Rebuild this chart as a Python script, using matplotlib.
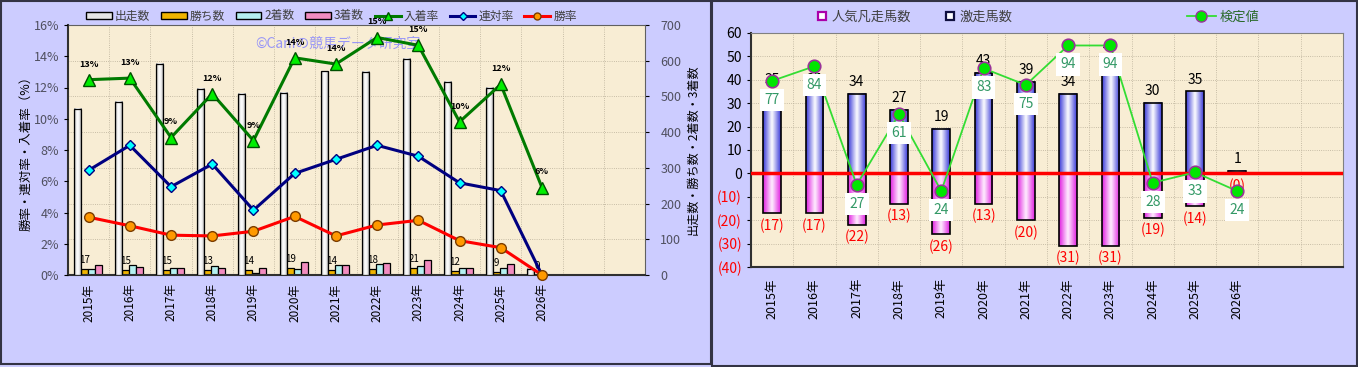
import numpy as np
import matplotlib
matplotlib.use('Agg')
import matplotlib.pyplot as plt
from matplotlib.colors import LinearSegmentedColormap
from matplotlib.patches import Patch, Rectangle
from matplotlib.lines import Line2D

plt.rcParams['font.family'] = ['Noto Sans CJK JP', 'DejaVu Sans']

years = ['2015年', '2016年', '2017年', '2018年', '2019年', '2020年',
         '2021年', '2022年', '2023年', '2024年', '2025年', '2026年']

# left chart
starts = [465, 485, 592, 522, 507, 511, 570, 569, 606, 541, 524, 18]
wins = [17, 15, 15, 13, 14, 19, 14, 18, 21, 12, 9, 0]
seconds = [16, 27, 19, 26, 7, 16, 29, 30, 26, 20, 20, 0]
thirds = [28, 22, 19, 19, 19, 36, 29, 35, 42, 19, 32, 0]
place_rate = [12.5, 12.6, 8.8, 11.6, 8.6, 13.9, 13.5, 15.2, 14.7, 9.8, 12.2, 5.6]
quinella_rate = [6.7, 8.3, 5.65, 7.1, 4.15, 6.5, 7.4, 8.3, 7.6, 5.9, 5.4, 0.0]
win_rate = [3.7, 3.15, 2.55, 2.5, 2.8, 3.75, 2.5, 3.2, 3.5, 2.2, 1.75, 0.0]

# right chart
upset_horses = [35, 35, 34, 27, 19, 43, 39, 34, 49, 30, 35, 1]
flop_horses = [17, 17, 22, 13, 26, 13, 20, 31, 31, 19, 14, 0]
test_value = [77, 84, 27, 61, 24, 83, 75, 94, 94, 28, 33, 24]

W, H = 1358, 367
fig = plt.figure(figsize=(W / 100, H / 100), dpi=100)
fig.patch.set_facecolor('#ccccff')

def fx(px):
    return px / W

def fy(py):
    return 1 - py / H

# panel borders
fig.patches.append(Rectangle((fx(1), fy(364)), fx(710), 363 / H, transform=fig.transFigure,
                             fill=False, edgecolor='#333344', lw=1.5))
fig.patches.append(Rectangle((fx(712), fy(366)), fx(645), 365 / H, transform=fig.transFigure,
                             fill=False, edgecolor='#333344', lw=1.5))

grad = np.linspace(0, 1, 64).reshape(1, -1)

def shade(ax, bars, colors, z):
    cmap = LinearSegmentedColormap.from_list('g', colors)
    for b in bars:
        x0, y0, w, h = b.get_x(), b.get_y(), b.get_width(), b.get_height()
        if h == 0:
            continue
        ax.imshow(grad, extent=(x0, x0 + w, y0, y0 + h), aspect='auto', cmap=cmap,
                  zorder=z, interpolation='bicubic')

n = len(years)
x = np.arange(n)
bg = '#f8edd4'
gridkw = dict(color='#b8ae98', lw=0.6, ls=':')

# ---------------- left chart ----------------
ax = fig.add_axes([fx(68), fy(275), fx(577), 250 / H])
ax.set_facecolor(bg)
bw = 0.17
b0 = ax.bar(x - 0.28, starts, bw, facecolor='none', edgecolor='black', lw=0.9, zorder=3.1)
shade(ax, b0, ['#8c8c8c', '#ffffff', '#f2f2f2', '#7c7c7c'], 3)
ax.bar(x - 0.11, wins, bw, color='#f0b400', edgecolor='black', lw=0.9, zorder=2.5)
ax.bar(x + 0.06, seconds, bw, color='#b4f0f0', edgecolor='black', lw=0.9, zorder=2.5)
ax.bar(x + 0.23, thirds, bw, color='#f28cc0', edgecolor='black', lw=0.9, zorder=2.5)
for i, v in enumerate(wins):
    ax.annotate(str(v), (x[i] - 0.11, v), xytext=(0, 4), textcoords='offset pixels',
                ha='center', va='bottom', fontsize=7, zorder=2)
ax.set_xlim(-0.5, 13.5)
ax.set_ylim(0, 700)
ax.set_yticks(range(0, 701, 100))
ax.set_xticks(x)
ax.set_xticklabels(years, rotation=90, fontsize=8.5)
ax.set_xticks(np.arange(-0.5, 14, 1), minor=True)
ax.tick_params(axis='x', which='both', length=0, pad=6)
ax.grid(True, which='minor', axis='x', **gridkw)
ax.grid(True, which='major', axis='y', **gridkw)
ax.set_axisbelow(True)
for s in ax.spines.values():
    s.set_color('#606060')
ax.spines['left'].set_color('#303030')
ax.spines['bottom'].set_color('#303030')
ax.spines['left'].set_linewidth(1.5)
ax.spines['bottom'].set_linewidth(1.5)

axl = ax.twinx()
# bars sit on the right-hand count axis, lines on the left-hand percent axis
ax.yaxis.tick_right()
ax.yaxis.set_label_position('right')
ax.set_ylabel('出走数・勝ち数・2着数・3着数', fontsize=8.7, labelpad=4)
ax.tick_params(axis='y', labelsize=9, labelcolor='#505060', length=3, pad=8)
axl.yaxis.tick_left()
axl.yaxis.set_label_position('left')

axl.plot(x, place_rate, color='#007a00', lw=2.2, marker='^', ms=9, mfc='#00ee00',
         mec='#005000', zorder=5, clip_on=False)
axl.plot(x, quinella_rate, color='#000080', lw=2.2, marker='D', ms=5.5, mfc='#00ffff',
         mec='#000080', zorder=5, clip_on=False)
axl.plot(x, win_rate, color='#ff0000', lw=2.2, marker='o', ms=7, mfc='#ff9900',
         mec='#7a3c00', zorder=5, clip_on=False)
for i, v in enumerate(place_rate):
    axl.annotate(f'{int(v + 0.5)}%', (x[i], v), xytext=(0, 11), textcoords='offset pixels',
                 ha='center', va='bottom', fontsize=6.5, fontweight='bold', zorder=6)
axl.set_ylim(0, 16)
axl.set_yticks(range(0, 17, 2))
axl.set_yticklabels([f'{t}%' for t in range(0, 17, 2)])
axl.tick_params(axis='y', labelsize=9, labelcolor='#505060', length=3)
axl.set_ylabel('勝率・連対率・入着率（%）', fontsize=9, labelpad=1)
for s in axl.spines.values():
    s.set_visible(False)
axl.text(0.325, 0.925, '©Caniの競馬データ研究室', transform=axl.transAxes, fontsize=10,
         color='#8080ff', alpha=0.8, ha='left', va='center', zorder=4)

h_left = [Patch(facecolor='#e6e6e6', edgecolor='black', label='出走数'),
          Patch(facecolor='#f0b400', edgecolor='black', label='勝ち数'),
          Patch(facecolor='#b4f0f0', edgecolor='black', label='2着数'),
          Patch(facecolor='#f28cc0', edgecolor='black', label='3着数'),
          Line2D([], [], color='#007a00', lw=2.2, marker='^', ms=6, mfc='#00ee00',
                 mec='#005000', label='入着率'),
          Line2D([], [], color='#000080', lw=2.2, marker='D', ms=4, mfc='#00ffff',
                 mec='#000080', label='連対率'),
          Line2D([], [], color='#ff0000', lw=2.2, marker='o', ms=5, mfc='#ff9900',
                 mec='#7a3c00', label='勝率')]
lg = fig.legend(handles=h_left, loc='center left', bbox_to_anchor=(fx(80), fy(16)), ncol=7,
                frameon=False, fontsize=8.5, handlelength=2.2, handleheight=0.6,
                handletextpad=0.25, columnspacing=0.9, borderpad=0)
for t in lg.get_texts():
    t.set_color('#404040')

# ---------------- right chart ----------------
axr = fig.add_axes([fx(751), fy(267), fx(592), 234 / H])
axr.set_facecolor(bg)
rw = 0.42
bp = axr.bar(x, upset_horses, rw, facecolor='none', edgecolor='black', lw=1.2, zorder=3.1)
shade(axr, bp, ['#3a3ad8', '#ffffff', '#3a3ad8'], 3)
bn = axr.bar(x, [-v for v in flop_horses], rw, facecolor='none', edgecolor='black', lw=1.2,
             zorder=3.1)
shade(axr, bn, ['#e020e0', '#fff0ff', '#e020e0'], 3)
axr.axhline(0, color='#ff0000', lw=2.5, zorder=3.5)
for i in range(n):
    axr.annotate(str(upset_horses[i]), (x[i], upset_horses[i]), xytext=(0, 5),
                 textcoords='offset pixels', ha='center', va='bottom', fontsize=10, zorder=4)
    axr.annotate(f'({flop_horses[i]})', (x[i], -flop_horses[i]), xytext=(0, -5),
                 textcoords='offset pixels', ha='center', va='top', fontsize=10,
                 color='#ff0000', zorder=4)
axr.set_xlim(-0.5, 13.5)
axr.set_ylim(-40, 60)
axr.set_yticks(range(-40, 61, 10))
axr.set_yticklabels([str(t) if t >= 0 else f'({-t})' for t in range(-40, 61, 10)])
for t, lab in zip(range(-40, 61, 10), axr.get_yticklabels()):
    if t < 0:
        lab.set_color('#ff0000')
axr.set_xticks(x)
axr.set_xticklabels(years, rotation=90, fontsize=9)
axr.set_xticks(np.arange(-0.5, 14, 1), minor=True)
axr.tick_params(axis='x', which='both', length=0, pad=8)
axr.tick_params(axis='y', labelsize=10, length=3)
axr.grid(True, which='minor', axis='x', **gridkw)
axr.grid(True, which='major', axis='y', **gridkw)
axr.set_axisbelow(True)
for s in axr.spines.values():
    s.set_color('#808080')
axr.spines['left'].set_color('#303030')
axr.spines['bottom'].set_color('#303030')
axr.spines['left'].set_linewidth(1.5)
axr.spines['bottom'].set_linewidth(1.5)

axr2 = axr.twinx()
axr2.set_ylim(-12.5, 100)
axr2.plot(x, test_value, color='#33dd33', lw=1.3, marker='o', ms=9, mfc='#00e600',
          mec='#993399', mew=1.2, zorder=5)
for i, v in enumerate(test_value):
    axr2.annotate(str(v), (x[i], v), xytext=(0, -19), textcoords='offset pixels',
                  ha='center', va='center', fontsize=10, color='#339966', zorder=6,
                  bbox=dict(boxstyle='square,pad=0.3', fc='white', ec='none'))
axr2.set_yticks([])
for s in axr2.spines.values():
    s.set_visible(False)

h_r1 = [Line2D([], [], ls='none', marker='s', ms=6, mfc='white', mec='#aa00aa', mew=1.6,
               label='人気凡走馬数'),
        Line2D([], [], ls='none', marker='s', ms=6, mfc='white', mec='#101040', mew=1.6,
               label='激走馬数')]
lg1 = fig.legend(handles=h_r1, loc='center left', bbox_to_anchor=(fx(810), fy(17)), ncol=2,
                 frameon=False, fontsize=9.5, handlelength=0.8, handletextpad=0.3,
                 columnspacing=2.6, borderpad=0)
for t in lg1.get_texts():
    t.set_color('#404040')
h_r2 = [Line2D([], [], color='#33dd33', lw=1.3, marker='o', ms=8, mfc='#00e600',
               mec='#993399', label='検定値')]
lg2 = fig.legend(handles=h_r2, loc='center left', bbox_to_anchor=(fx(1180), fy(17)),
                 frameon=False, fontsize=9.5, handlelength=2.2, handletextpad=0.3, borderpad=0)
for t in lg2.get_texts():
    t.set_color('#2a6a2a')

fig.savefig('out.png', dpi=100, facecolor=fig.get_facecolor())
